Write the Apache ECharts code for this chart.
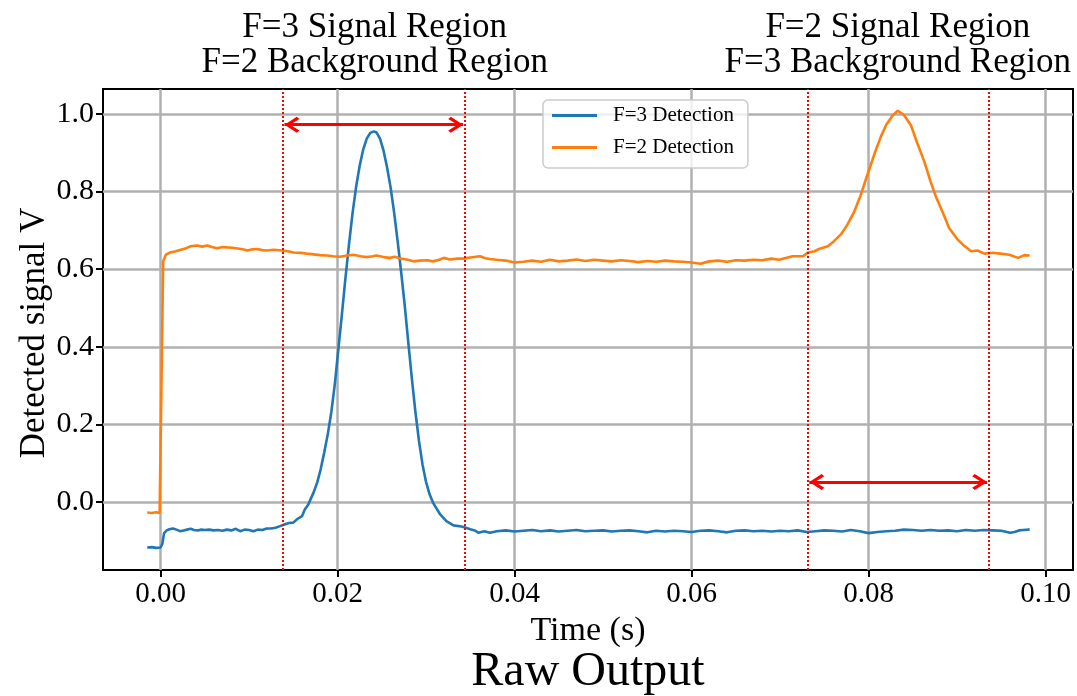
<!DOCTYPE html>
<html><head><meta charset="utf-8">
<script src="https://cdn.jsdelivr.net/npm/echarts@6/dist/echarts.min.js"></script>
<style>html,body{margin:0;padding:0;background:#fff}#c{width:1077px;height:696px}</style>
</head><body><div id="c"></div>
<script>
// ---- data ----
const f3Time = [-0.0015,-0.0010,-0.0005,0.0000,0.0002,0.0004,0.0007,0.0010,0.0014,0.0018,0.0022,0.0026,0.0030,0.0034,0.0038,0.0042,0.0046,0.0050,0.0055,0.0060,0.0065,0.0070,0.0075,0.0080,0.0085,0.0090,0.0095,0.0100,0.0105,0.0110,0.0115,0.0120,0.0125,0.0130,0.0135,0.0140,0.0145,0.0150,0.0155,0.0160,0.0163,0.0167,0.0173,0.0177,0.0181,0.0185,0.0189,0.0193,0.0197,0.0201,0.0205,0.0209,0.0213,0.0217,0.0221,0.0225,0.0229,0.0233,0.0237,0.0241,0.0244,0.0248,0.0252,0.0256,0.0260,0.0264,0.0268,0.0272,0.0276,0.0280,0.0284,0.0288,0.0292,0.0296,0.0300,0.0304,0.0308,0.0316,0.0323,0.0331,0.0340,0.0345,0.0350,0.0355,0.0359,0.0366,0.0372,0.0380,0.039,0.040,0.041,0.042,0.043,0.044,0.045,0.046,0.047,0.048,0.049,0.050,0.051,0.052,0.053,0.054,0.055,0.056,0.057,0.058,0.059,0.060,0.061,0.062,0.063,0.064,0.065,0.066,0.067,0.068,0.069,0.070,0.071,0.072,0.073,0.074,0.075,0.076,0.077,0.078,0.079,0.080,0.081,0.082,0.083,0.084,0.085,0.086,0.087,0.088,0.089,0.090,0.091,0.092,0.093,0.094,0.095,0.096,0.0965,0.097,0.0975,0.098,0.0982];
const f3Values = [-0.117,-0.116,-0.118,-0.117,-0.108,-0.080,-0.073,-0.070,-0.068,-0.071,-0.075,-0.073,-0.071,-0.069,-0.072,-0.073,-0.071,-0.072,-0.071,-0.073,-0.072,-0.074,-0.071,-0.073,-0.069,-0.075,-0.071,-0.072,-0.075,-0.071,-0.072,-0.068,-0.068,-0.066,-0.062,-0.058,-0.054,-0.053,-0.043,-0.036,-0.019,-0.006,0.025,0.050,0.085,0.128,0.175,0.232,0.305,0.395,0.485,0.578,0.665,0.745,0.812,0.866,0.908,0.936,0.951,0.955,0.952,0.936,0.905,0.862,0.810,0.745,0.670,0.590,0.505,0.410,0.318,0.232,0.158,0.097,0.052,0.020,-0.002,-0.032,-0.049,-0.060,-0.063,-0.066,-0.070,-0.073,-0.079,-0.075,-0.079,-0.075,-0.073,-0.076,-0.074,-0.072,-0.075,-0.073,-0.076,-0.074,-0.072,-0.075,-0.074,-0.073,-0.076,-0.074,-0.073,-0.075,-0.078,-0.074,-0.076,-0.074,-0.075,-0.077,-0.074,-0.073,-0.075,-0.078,-0.074,-0.073,-0.075,-0.074,-0.076,-0.074,-0.075,-0.073,-0.077,-0.075,-0.073,-0.074,-0.076,-0.072,-0.075,-0.080,-0.077,-0.075,-0.074,-0.071,-0.072,-0.074,-0.072,-0.074,-0.073,-0.075,-0.072,-0.074,-0.072,-0.073,-0.074,-0.079,-0.077,-0.073,-0.072,-0.071,-0.070];
const f2Time = [-0.0015,-0.0010,-0.0005,-0.0001,0.0001,0.0003,0.0006,0.0011,0.0017,0.0023,0.0029,0.0034,0.0041,0.0047,0.0053,0.0058,0.0064,0.0070,0.0075,0.0081,0.0087,0.0093,0.0098,0.0104,0.0109,0.0115,0.0120,0.0128,0.0137,0.0144,0.0150,0.0158,0.0165,0.0173,0.0180,0.0188,0.0195,0.0203,0.0211,0.0218,0.0226,0.0233,0.0240,0.0244,0.0252,0.0259,0.0265,0.0271,0.0278,0.0286,0.0293,0.0301,0.0308,0.0315,0.0320,0.0327,0.0335,0.0342,0.0350,0.0361,0.0367,0.0372,0.038,0.039,0.040,0.041,0.042,0.043,0.044,0.045,0.046,0.047,0.048,0.049,0.050,0.051,0.052,0.053,0.054,0.055,0.056,0.057,0.058,0.059,0.060,0.061,0.062,0.063,0.064,0.065,0.066,0.067,0.068,0.069,0.0699,0.0714,0.0726,0.0731,0.0739,0.0744,0.0754,0.0761,0.0769,0.0776,0.0784,0.0791,0.0799,0.0807,0.0814,0.0820,0.0827,0.0833,0.0840,0.0848,0.0855,0.0863,0.0870,0.0876,0.0884,0.0891,0.0900,0.0908,0.0916,0.0923,0.0931,0.0940,0.0949,0.0959,0.0969,0.0976,0.0982];
const f2Values = [-0.027,-0.028,-0.026,-0.028,-0.029,0.620,0.637,0.643,0.646,0.650,0.654,0.659,0.661,0.658,0.661,0.657,0.654,0.657,0.656,0.655,0.653,0.651,0.648,0.651,0.652,0.649,0.648,0.650,0.648,0.646,0.643,0.642,0.640,0.638,0.636,0.635,0.633,0.632,0.635,0.637,0.633,0.631,0.633,0.635,0.631,0.629,0.632,0.627,0.625,0.620,0.622,0.623,0.620,0.624,0.629,0.625,0.627,0.627,0.630,0.633,0.628,0.626,0.624,0.622,0.617,0.619,0.622,0.619,0.624,0.620,0.622,0.625,0.621,0.624,0.622,0.620,0.623,0.621,0.618,0.621,0.619,0.622,0.620,0.619,0.617,0.614,0.620,0.622,0.619,0.623,0.622,0.624,0.623,0.627,0.624,0.633,0.633,0.642,0.646,0.652,0.659,0.672,0.690,0.714,0.749,0.790,0.845,0.899,0.942,0.972,0.995,1.008,0.997,0.970,0.925,0.877,0.826,0.787,0.745,0.706,0.678,0.660,0.646,0.648,0.640,0.642,0.640,0.637,0.629,0.636,0.635];
const xTicks = [0.00, 0.02, 0.04, 0.06, 0.08, 0.10];
const yTicks = [0.0, 0.2, 0.4, 0.6, 0.8, 1.0];
const regionLines = [0.0138, 0.0344, 0.0731, 0.0936];
const arrowFrom = [0.0140, 0.0733];
const arrowTo = [0.0342, 0.0934];
const arrowLevel = [0.972, 0.0515];
const annotationX = [0.0242, 0.0833];
const annotationText = ['F=3 Signal Region\nF=2 Background Region', 'F=2 Signal Region\nF=3 Background Region'];
const seriesNames = ['F=3 Detection', 'F=2 Detection'];

// ---- chart ----
const FONT = '"Liberation Serif","Times New Roman",serif';
const CHEVRON = 'path://M8,15 L16,27 L13.8,29.5 L8,20.5 L2.2,29.5 L0,27 Z M8,0.5 L8.02,0.5 L8,0.52 Z';
const chart = echarts.init(document.getElementById('c'), null, {renderer: 'canvas'});
const option = {
  animation: false,
  backgroundColor: '#ffffff',
  grid: {left: 103, right: 4, top: 89, bottom: 126, show: true, borderColor: '#000', borderWidth: 2, backgroundColor: 'transparent'},
  xAxis: {
    type: 'value', min: -0.0065, max: 0.1031,
    axisLine: {show: false, onZero: false},
    axisTick: {show: true, inside: false, length: 7, lineStyle: {color: '#000', width: 2}, customValues: xTicks},
    axisLabel: {customValues: xTicks, formatter: v => v.toFixed(2), fontSize: 29, color: '#000', fontFamily: FONT, margin: 10},
    splitLine: {show: true, lineStyle: {color: '#b0b0b0', width: 2.5}},
    name: 'Time (s)', nameLocation: 'middle', nameGap: 43,
    nameTextStyle: {fontSize: 34, color: '#000', fontFamily: FONT}
  },
  yAxis: {
    type: 'value', min: -0.175, max: 1.064,
    axisLine: {show: false, onZero: false},
    axisTick: {show: true, inside: false, length: 7, lineStyle: {color: '#000', width: 2}, customValues: yTicks},
    axisLabel: {customValues: yTicks, formatter: v => v.toFixed(1), fontSize: 30, color: '#000', fontFamily: FONT, margin: 9},
    splitLine: {show: true, lineStyle: {color: '#b0b0b0', width: 2.5}}
  },
  legend: {
    data: seriesNames, orient: 'vertical', left: 543, top: 100,
    itemWidth: 45, itemHeight: 3, icon: 'rect', itemGap: 11,
    padding: [5, 14, 10, 9],
    backgroundColor: 'rgba(255,255,255,0.8)', borderColor: '#cccccc', borderWidth: 1.5, borderRadius: 5,
    textStyle: {fontFamily: FONT, fontSize: 21, color: '#000', padding: [0, 0, 0, 11]}
  },
  series: [
    {name: seriesNames[0], type: 'line', data: f3Time.map((t, i) => [t, f3Values[i]]), showSymbol: false, symbol: 'none',
     lineStyle: {color: '#1f77b4', width: 2.6}, itemStyle: {color: '#1f77b4'}, z: 3},
    {name: seriesNames[1], type: 'line', data: f2Time.map((t, i) => [t, f2Values[i]]), showSymbol: false, symbol: 'none',
     lineStyle: {color: '#ff7f0e', width: 2.6}, itemStyle: {color: '#ff7f0e'}, z: 3},
    {name: 'regions', type: 'line', data: [], z: 4,
     markLine: {silent: true, symbol: ['none', 'none'], precision: 5, label: {show: false}, animation: false, z: 6,
       lineStyle: {color: '#ff0000', type: [2, 2], width: 2},
       data: regionLines.map(x => ({xAxis: x}))}},
    {name: 'arrows', type: 'line', data: [], z: 4,
     markLine: {silent: true, symbol: [CHEVRON, CHEVRON], symbolSize: [16, 30], precision: 5, label: {show: false}, animation: false, z: 6,
       itemStyle: {color: '#ff0000'},
       lineStyle: {color: '#ff0000', type: 'solid', width: 3},
       data: arrowFrom.map((f, i) => [{coord: [f, arrowLevel[i]]}, {coord: [arrowTo[i], arrowLevel[i]]}])}}
  ]
};
chart.setOption(option);
const graphics = annotationX.map((ax, i) => {
  const px = chart.convertToPixel({gridIndex: 0}, [ax, 0])[0];
  return {type: 'text', x: px, y: 45, silent: true,
    style: {text: annotationText[i], align: 'center', verticalAlign: 'middle', fontSize: 35, fontFamily: FONT, lineHeight: 35, fill: '#000'}};
});
graphics.push({type: 'text', x: 588, y: 672, silent: true,
  style: {text: 'Raw Output', align: 'center', verticalAlign: 'middle', fontSize: 48, fontFamily: FONT, fill: '#000'}});
graphics.push({type: 'text', x: 35, y: 333, rotation: Math.PI / 2, silent: true,
  style: {text: 'Detected signal V', align: 'center', verticalAlign: 'middle', fontSize: 35, fontFamily: FONT, fill: '#000'}});
chart.setOption({graphic: graphics});
</script>
</body></html>
